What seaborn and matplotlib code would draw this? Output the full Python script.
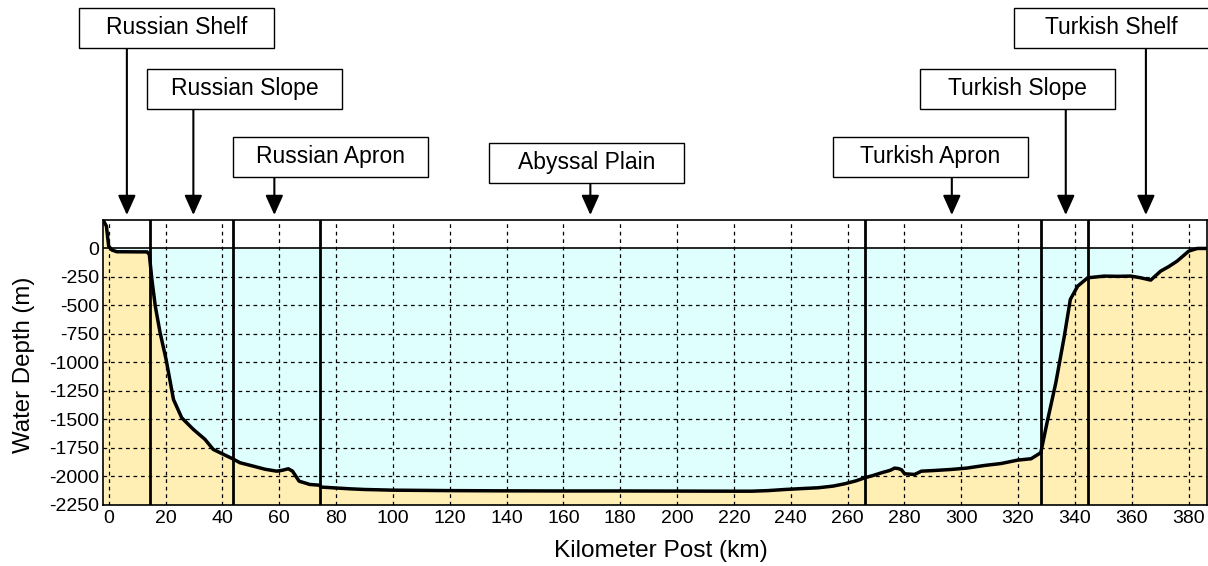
import matplotlib
matplotlib.use("Agg")
import matplotlib.pyplot as plt
import seaborn as sns
import numpy as np
import pandas as pd
from matplotlib.patches import Rectangle

# ---------------- data ----------------
km = [-1.75, -0.8, 0.0, 1.2, 2.9, 5, 10, 13.5, 14.3, 15.2, 16.4, 18.1, 20.2, 22.8,
      25.7, 29.8, 33.9, 36.8, 39.2, 43.6, 46.2, 50.9, 55, 59.1, 61, 63.2, 64.7, 67,
      70.8, 74, 74.9, 80, 84.8, 90, 100, 120, 140, 160, 180, 200, 220, 226.3, 232,
      238, 244, 249.7, 255, 259, 263, 266.1, 269, 272, 275, 276.6, 278, 279, 280.1,
      283.6, 286, 290, 296.5, 302, 308.2, 314, 319.9, 324.6, 328, 330.2, 333.3,
      336.3, 338.4, 341, 344.5, 350.3, 355, 359.7, 363.2, 366.7, 370.2, 373, 376,
      380.1, 383.1, 386.5]
depth = [240, 196, 20, -15, -29, -29, -30, -30, -53, -272, -507, -741, -975, -1327,
         -1488, -1590, -1678, -1766, -1795, -1848, -1883, -1913, -1940, -1957, -1950,
         -1936, -1957, -2045, -2074, -2080, -2097, -2105, -2112, -2118, -2124, -2128,
         -2130, -2131, -2131, -2132, -2133, -2133, -2128, -2118, -2110, -2103, -2088,
         -2068, -2042, -2015, -1995, -1971, -1950, -1930, -1935, -1945, -1980, -1986,
         -1957, -1952, -1942, -1930, -1907, -1890, -1860, -1848, -1795, -1532, -1180,
         -770, -448, -331, -258, -243, -245, -243, -258, -278, -199, -160, -111, -23,
         0, 0]

boundaries_km = [14.5, 43.6, 74.2, 266.2, 328.0, 344.7]

zone_labels = ["Russian Shelf", "Russian Slope", "Russian Apron", "Abyssal Plain",
               "Turkish Apron", "Turkish Slope", "Turkish Shelf"]
zone_arrow_km = [6.4, 29.8, 58.3, 169.5, 296.7, 336.8, 365.0]

x_ticks = list(range(0, 381, 20))
y_ticks = list(range(-2250, 1, 250))

# ---------------- style ----------------
sns.set_theme(style="white")
plt.rcParams["font.family"] = ["Liberation Sans", "DejaVu Sans"]
plt.rcParams["axes.unicode_minus"] = False

W, H = 1208, 566
fig = plt.figure(figsize=(W / 100, H / 100), dpi=100)
ax_l, ax_r, ax_t, ax_b = 103, 1207, 220, 504.5
ax = fig.add_axes([ax_l / W, 1 - ax_b / H, (ax_r - ax_l) / W, (ax_b - ax_t) / H])

df = pd.DataFrame({"km": km, "depth": depth})
x = np.array(km, dtype=float)
y = np.array(depth, dtype=float)

YMIN, YMAX = -2250, 250
ax.fill_between(x, y, YMIN, color="#FFEFB5", lw=0, zorder=1)
ax.fill_between(x, np.minimum(y, 0), 0, color="#DFFFFF", lw=0, zorder=1)

# grid (dashed), drawn over the fills
dash = (0, (3, 3))
for xv in x_ticks:
    ax.axvline(xv, color="black", lw=0.9, ls=dash, zorder=2)
for yv in y_ticks[1:-1]:
    ax.axhline(yv, color="black", lw=0.9, ls=dash, zorder=2)
ax.axhline(0, color="black", lw=1.2, zorder=2.5)

for b in boundaries_km:
    ax.axvline(b, color="black", lw=2, zorder=3)

sns.lineplot(data=df, x="km", y="depth", ax=ax, color="black", lw=2.5,
             sort=False, estimator=None, zorder=4)

ax.set_xlim(-2, 386.5)
ax.set_ylim(YMIN, YMAX)
ax.set_xticks(x_ticks)
ax.set_yticks(y_ticks)
ax.tick_params(axis="both", length=0, labelsize=14, colors="black")
ax.tick_params(axis="x", pad=4)
ax.tick_params(axis="y", pad=2.5)
ax.set_xlabel("")
ax.set_ylabel("")
for s in ax.spines.values():
    s.set_color("black")
    s.set_linewidth(1.2)

fig.text(24 / W, 1 - 365 / H, "Water Depth (m)", rotation=90, ha="center",
         va="center", fontsize=17.3, color="black")
fig.text(661 / W, 1 - 551 / H, "Kilometer Post (km)", ha="center", va="center",
         fontsize=17.6, color="black")

# ---------------- zone boxes with arrows ----------------
box_px = [(79, 8), (147, 69), (233, 137), (489, 143), (833, 137), (920, 69), (1014, 8)]
bw, bh = 195, 40
tip_y = 1 - 215 / H
blend = matplotlib.transforms.blended_transform_factory(ax.transData, fig.transFigure)
for lab, (bx, by), akm in zip(zone_labels, box_px, zone_arrow_km):
    rect = Rectangle((bx / W, 1 - (by + bh) / H), bw / W, bh / H,
                     transform=fig.transFigure, facecolor="white",
                     edgecolor="black", lw=1.0, zorder=5)
    fig.add_artist(rect)
    fig.text((bx + bw / 2) / W, 1 - (by + bh / 2) / H, lab, ha="center",
             va="center", fontsize=16.5, color="black", zorder=6)
    ax.annotate("", xy=(akm, tip_y), xycoords=blend,
                xytext=(akm, 1 - (by + bh) / H), textcoords=blend,
                arrowprops=dict(arrowstyle="-|>,head_length=1.0,head_width=0.45",
                                color="black", lw=1.5, shrinkA=0, shrinkB=0),
                annotation_clip=False)

fig.savefig("out.png", dpi=100)
